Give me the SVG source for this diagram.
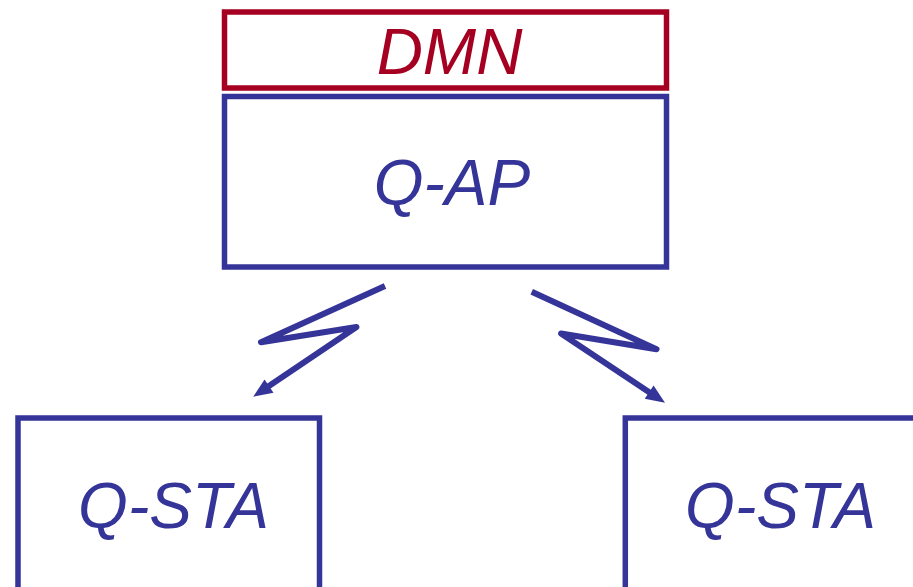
<svg xmlns="http://www.w3.org/2000/svg" width="913" height="587" viewBox="0 0 913 587">
<style>
.box{fill:#fff;stroke-width:5.5}
.blue{stroke:#353599}
.red{stroke:#A50021}
.lbl{font-family:"Liberation Sans",Arial,sans-serif;font-style:italic;font-size:64px;text-anchor:middle}
.conn{fill:none;stroke:#353599;stroke-width:6;stroke-linejoin:round}
</style>
<defs>
<marker id="ah" markerUnits="userSpaceOnUse" markerWidth="20" markerHeight="20" refX="0" refY="0" orient="auto" overflow="visible">
<path d="M-1,-8 L18,0 L-1,8 z" fill="#353599"/>
</marker>
</defs>
<rect width="913" height="587" fill="#fff"/>
<g id="dmn">
<rect class="box red" x="224.5" y="12" width="442" height="76"/>
<text class="lbl" x="449.5" y="74" fill="#A50021">DMN</text>
</g>
<g id="qap">
<rect class="box blue" x="224.5" y="96.5" width="442" height="170.5"/>
<text class="lbl" x="452" y="205" fill="#353599">Q-AP</text>
</g>
<g id="qsta1">
<rect class="box blue" x="18" y="418" width="301.5" height="200"/>
<text class="lbl" x="173.5" y="528" fill="#353599">Q-STA</text>
</g>
<g id="qsta2">
<rect class="box blue" x="625.3" y="418" width="320" height="200"/>
<text class="lbl" x="780.5" y="528" fill="#353599">Q-STA</text>
</g>
<g id="connectors">
<path class="conn" d="M385,286 L261,342.3 L356.5,327 L268.2,386.6" marker-end="url(#ah)"/>
<path class="conn" d="M531.7,291.7 L656.5,349.3 L561,333.5 L650,392.7" marker-end="url(#ah)"/>
</g>
</svg>
